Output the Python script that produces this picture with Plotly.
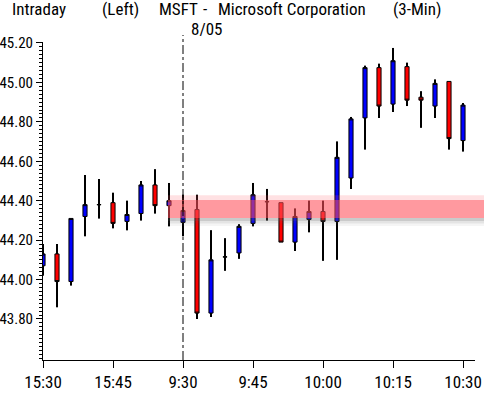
import plotly.graph_objects as go

times = ["15:30","15:33","15:36","15:39","15:42","15:45","15:48","15:51","15:54","15:57",
         "9:30","9:33","9:36","9:39","9:42","9:45","9:48","9:51","9:54","9:57",
         "10:00","10:03","10:06","10:09","10:12","10:15","10:18","10:21","10:24","10:27","10:30"]
open_ = [44.07,44.13,43.99,44.32,44.38,44.39,44.295,44.335,44.48,44.375,
         44.29,44.355,43.83,44.115,44.135,44.285,44.395,44.39,44.19,44.305,
         44.345,44.295,44.515,44.82,45.075,44.89,45.08,44.925,44.88,45.005,44.705]
high = [44.18,44.18,44.31,44.53,44.51,44.44,44.40,44.50,44.56,44.49,
        44.43,44.43,44.25,44.21,44.28,44.49,44.46,44.39,44.36,44.40,
        44.40,44.70,44.825,45.085,45.095,45.175,45.10,44.955,45.015,45.005,44.895]
low = [44.02,43.86,43.97,44.22,44.31,44.26,44.25,44.30,44.335,44.27,
       44.22,43.80,43.81,44.045,44.105,44.27,44.30,44.19,44.145,44.24,
       44.095,44.10,44.46,44.66,44.82,44.85,44.88,44.77,44.82,44.66,44.65]
close = [44.13,43.99,44.31,44.38,44.38,44.285,44.33,44.48,44.375,44.40,
         44.35,43.83,44.10,44.115,44.27,44.43,44.395,44.19,44.32,44.345,
         44.295,44.62,44.815,45.075,44.88,45.11,44.91,44.91,44.995,44.715,44.885]
tick_labels = ["15:30","15:45","9:30","9:45","10:00","10:15","10:30"]
tick_idx = [0,5,10,15,20,25,30]
y_ticks = [43.80,44.00,44.20,44.40,44.60,44.80,45.00,45.20]
band_low, band_high = 44.312, 44.403

FONT = "Roboto Condensed, DejaVu Sans Condensed, sans-serif"
FS = 17
x = list(range(len(times)))

# wick segments (outside the bodies), drawn thicker
wx, wy = [], []
for i in x:
    top = max(open_[i], close[i])
    bot = min(open_[i], close[i])
    wx += [i, i, None, i, i, None]
    wy += [high[i], top, None, bot, low[i], None]

fig = go.Figure()
fig.add_trace(go.Candlestick(
    x=x, open=open_, high=high, low=low, close=close,
    increasing=dict(line=dict(color="black", width=1), fillcolor="#0000ff"),
    decreasing=dict(line=dict(color="black", width=1), fillcolor="#ff0000"),
    whiskerwidth=0, hoverinfo="skip", showlegend=False,
))
fig.add_trace(go.Scatter(x=wx, y=wy, mode="lines", line=dict(color="black", width=2),
                         hoverinfo="skip", showlegend=False, connectgaps=False))

L, R, T, B = 43, 9, 42, 38
W, H = 484, 398
pw, ph = W - L - R, H - T - B

def px_x(p):
    return (p - L) / pw

def px_y(p):
    return (H - B - p) / ph

shapes = []
bx0, bx1 = px_x(168), px_x(484)
shapes.append(dict(type="rect", xref="paper", yref="y", x0=bx0, x1=bx1,
                   y0=band_high, y1=band_high + 0.025, line=dict(width=0),
                   fillcolor="rgba(255,90,100,0.18)", layer="above"))
shapes.append(dict(type="rect", xref="paper", yref="y", x0=bx0, x1=bx1,
                   y0=band_low, y1=band_high, line=dict(width=0),
                   fillcolor="rgba(255,80,90,0.58)", layer="above"))
for (a, b, al) in [(0.0, 0.015, 0.32), (0.015, 0.028, 0.16), (0.028, 0.04, 0.06)]:
    shapes.append(dict(type="rect", xref="paper", yref="y", x0=bx0, x1=bx1,
                       y0=band_low - b, y1=band_low - a, line=dict(width=0),
                       fillcolor=f"rgba(90,90,90,{al})", layer="above"))
shapes.append(dict(type="line", xref="x", yref="paper", x0=10, x1=10,
                   y0=0, y1=px_y(35), line=dict(color="black", width=1, dash="dashdot"),
                   layer="above"))

annotations = [
    dict(text="Intraday", x=px_x(10), y=px_y(9)),
    dict(text="(Left)", x=px_x(100), y=px_y(9)),
    dict(text="MSFT", x=px_x(157), y=px_y(9)),
    dict(text="-", x=px_x(201), y=px_y(9)),
    dict(text="Microsoft Corporation", x=px_x(216), y=px_y(9)),
    dict(text="(3-Min)", x=px_x(391), y=px_y(9)),
    dict(text="8/05", x=px_x(189), y=px_y(29)),
]
for a in annotations:
    a.update(xref="paper", yref="paper", xanchor="left", yanchor="middle",
             showarrow=False, font=dict(family=FONT, size=FS, color="black"))

fig.update_layout(
    width=W, height=H, margin=dict(l=L, r=R, t=T, b=B, pad=0, autoexpand=False),
    paper_bgcolor="white", plot_bgcolor="white",
    boxgap=0.58, shapes=shapes, annotations=annotations,
    font=dict(family=FONT, size=FS, color="black"),
    xaxis=dict(range=[0, (W - R - L) / 14], tickvals=tick_idx, ticktext=tick_labels,
               showgrid=False, zeroline=False, showline=True, linecolor="black", linewidth=1,
               ticks="outside", ticklen=7, tickcolor="black", rangeslider=dict(visible=False),
               fixedrange=True, automargin=False, tickfont=dict(size=17)),
    yaxis=dict(range=[43.592, 45.205], tickvals=y_ticks, tickformat=".2f",
               showgrid=False, zeroline=False, showline=True, linecolor="black", linewidth=1,
               ticks="outside", ticklen=6, tickcolor="black",
               minor=dict(dtick=0.02, tick0=43.6, ticks="outside", ticklen=3, tickcolor="black"),
               fixedrange=True, automargin=False, tickfont=dict(size=15)),
)

fig.write_html("out.html", config={"displayModeBar": False},
               post_script="document.body.style.margin='0';")
